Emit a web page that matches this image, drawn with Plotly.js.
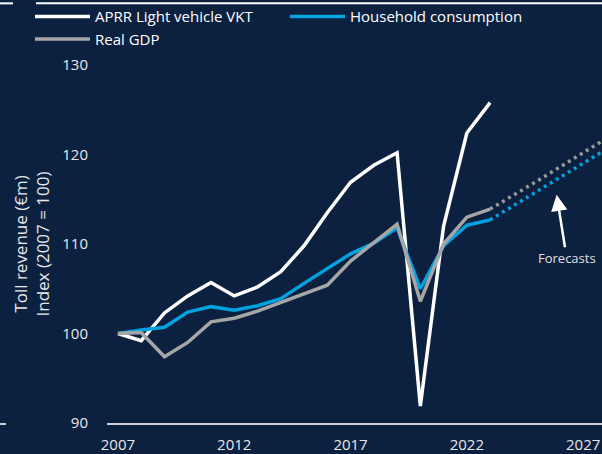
<!DOCTYPE html>
<html>
<head>
<meta charset="utf-8">
<script src="https://cdn.plot.ly/plotly-3.0.1.min.js"></script>
<style>
  html, body { margin: 0; padding: 0; background: #0c2140; }
  #chart { width: 602px; height: 454px; }
</style>
</head>
<body>
<div id="chart"></div>
<script>
// Historical years
const years = [2007, 2008, 2009, 2010, 2011, 2012, 2013, 2014, 2015, 2016, 2017, 2018, 2019, 2020, 2021, 2022, 2023];
// APRR Light vehicle VKT (index 2007 = 100)
const aprrVkt = [100, 99.2, 102.3, 104.2, 105.7, 104.2, 105.2, 106.9, 109.8, 113.5, 116.9, 118.8, 120.2, 91.9, 112.0, 122.4, 125.8];
// Household consumption
const household = [100, 100.4, 100.7, 102.4, 103.0, 102.6, 103.1, 103.9, 105.6, 107.3, 108.9, 110.1, 111.8, 105.0, 109.8, 112.1, 112.7];
// Real GDP
const realGdp = [100, 100.1, 97.4, 99.0, 101.3, 101.7, 102.5, 103.5, 104.5, 105.4, 108.1, 110.1, 112.2, 103.6, 110.0, 113.0, 113.9];
// Forecast years and values
const forecastYears = [2023, 2024, 2025, 2026, 2027, 2028];
const householdForecast = [112.7, 114.3, 115.9, 117.5, 119.0, 120.6];
const gdpForecast = [113.9, 115.4, 117.0, 118.6, 120.2, 121.8];
// Axis ticks
const yTicks = [90, 100, 110, 120, 130];
const xTicks = [2007, 2012, 2017, 2022, 2027];

const BG = '#0c2140';
const WHITE = '#ffffff';
const BLUE = '#00a3e0';
const GRAY = '#a6a6a6';
const FONT = 'Open Sans, Noto Sans, sans-serif';

const traces = [
  { x: years, y: aprrVkt, type: 'scatter', mode: 'lines', name: 'APRR Light vehicle VKT',
    line: { color: WHITE, width: 3.5 } },
  { x: years, y: household, type: 'scatter', mode: 'lines', name: 'Household consumption',
    line: { color: BLUE, width: 3.5 } },
  { x: years, y: realGdp, type: 'scatter', mode: 'lines', name: 'Real GDP',
    line: { color: GRAY, width: 3.5 } },
  { x: forecastYears, y: gdpForecast, type: 'scatter', mode: 'lines', showlegend: false,
    line: { color: '#9a9a9a', width: 3.5, dash: '3px,4px' } },
  { x: forecastYears, y: householdForecast, type: 'scatter', mode: 'lines', showlegend: false,
    line: { color: BLUE, width: 3.5, dash: '3px,4px' } }
];

const px2x = p => (p - 107) / 495;
const px2y = p => (423 - p) / 360;

const layout = {
  width: 602, height: 454,
  paper_bgcolor: BG, plot_bgcolor: BG,
  margin: { l: 107, r: 0, t: 63, b: 31 },
  font: { family: FONT, color: '#e8e8e8', size: 15 },
  showlegend: true,
  legend: {
    orientation: 'h', x: px2x(30), xanchor: 'left', y: px2y(-2), yanchor: 'top',
    bgcolor: 'rgba(0,0,0,0)', font: { family: FONT, size: 15, color: '#ffffff' },
    entrywidth: 185, entrywidthmode: 'pixels', itemwidth: 55, tracegroupgap: 0
  },
  xaxis: {
    range: [2006.53, 2027.81], tickvals: xTicks, ticktext: xTicks.map(String),
    showgrid: false, zeroline: false, showline: true, linecolor: '#d0d0d0', linewidth: 2,
    ticks: '', ticklabelstandoff: 7, tickfont: { size: 15, color: '#e8e8e8' }
  },
  yaxis: {
    range: [90, 130], tickvals: yTicks, showgrid: false, zeroline: false, showline: false,
    ticks: '', ticklabelstandoff: 18, tickfont: { size: 15, color: '#e8e8e8' },
    title: { text: 'Toll revenue (€m)<br>Index (2007 = 100)', font: { size: 17, color: '#e8e8e8' }, standoff: 8 }
  },
  annotations: [
    { x: 2025.86, y: 115.5, xref: 'x', yref: 'y', text: 'Forecasts', showarrow: true,
      ax: 10, ay: 63, arrowcolor: WHITE, arrowwidth: 2.5, arrowhead: 2, arrowsize: 1.3,
      font: { size: 13, color: '#e0e0e0', family: FONT } }
  ],
  shapes: [
    { type: 'line', xref: 'paper', yref: 'paper', x0: px2x(0), x1: px2x(13), y0: px2y(1), y1: px2y(1),
      line: { color: WHITE, width: 2 } },
    { type: 'line', xref: 'paper', yref: 'paper', x0: px2x(36), x1: px2x(602), y0: px2y(1), y1: px2y(1),
      line: { color: WHITE, width: 2 } },
    { type: 'line', xref: 'paper', yref: 'paper', x0: px2x(0), x1: px2x(6), y0: px2y(424), y1: px2y(424),
      line: { color: '#d0d0d0', width: 2 } }
  ]
};

Plotly.newPlot('chart', traces, layout, { displayModeBar: false, staticPlot: true });
</script>
</body>
</html>
